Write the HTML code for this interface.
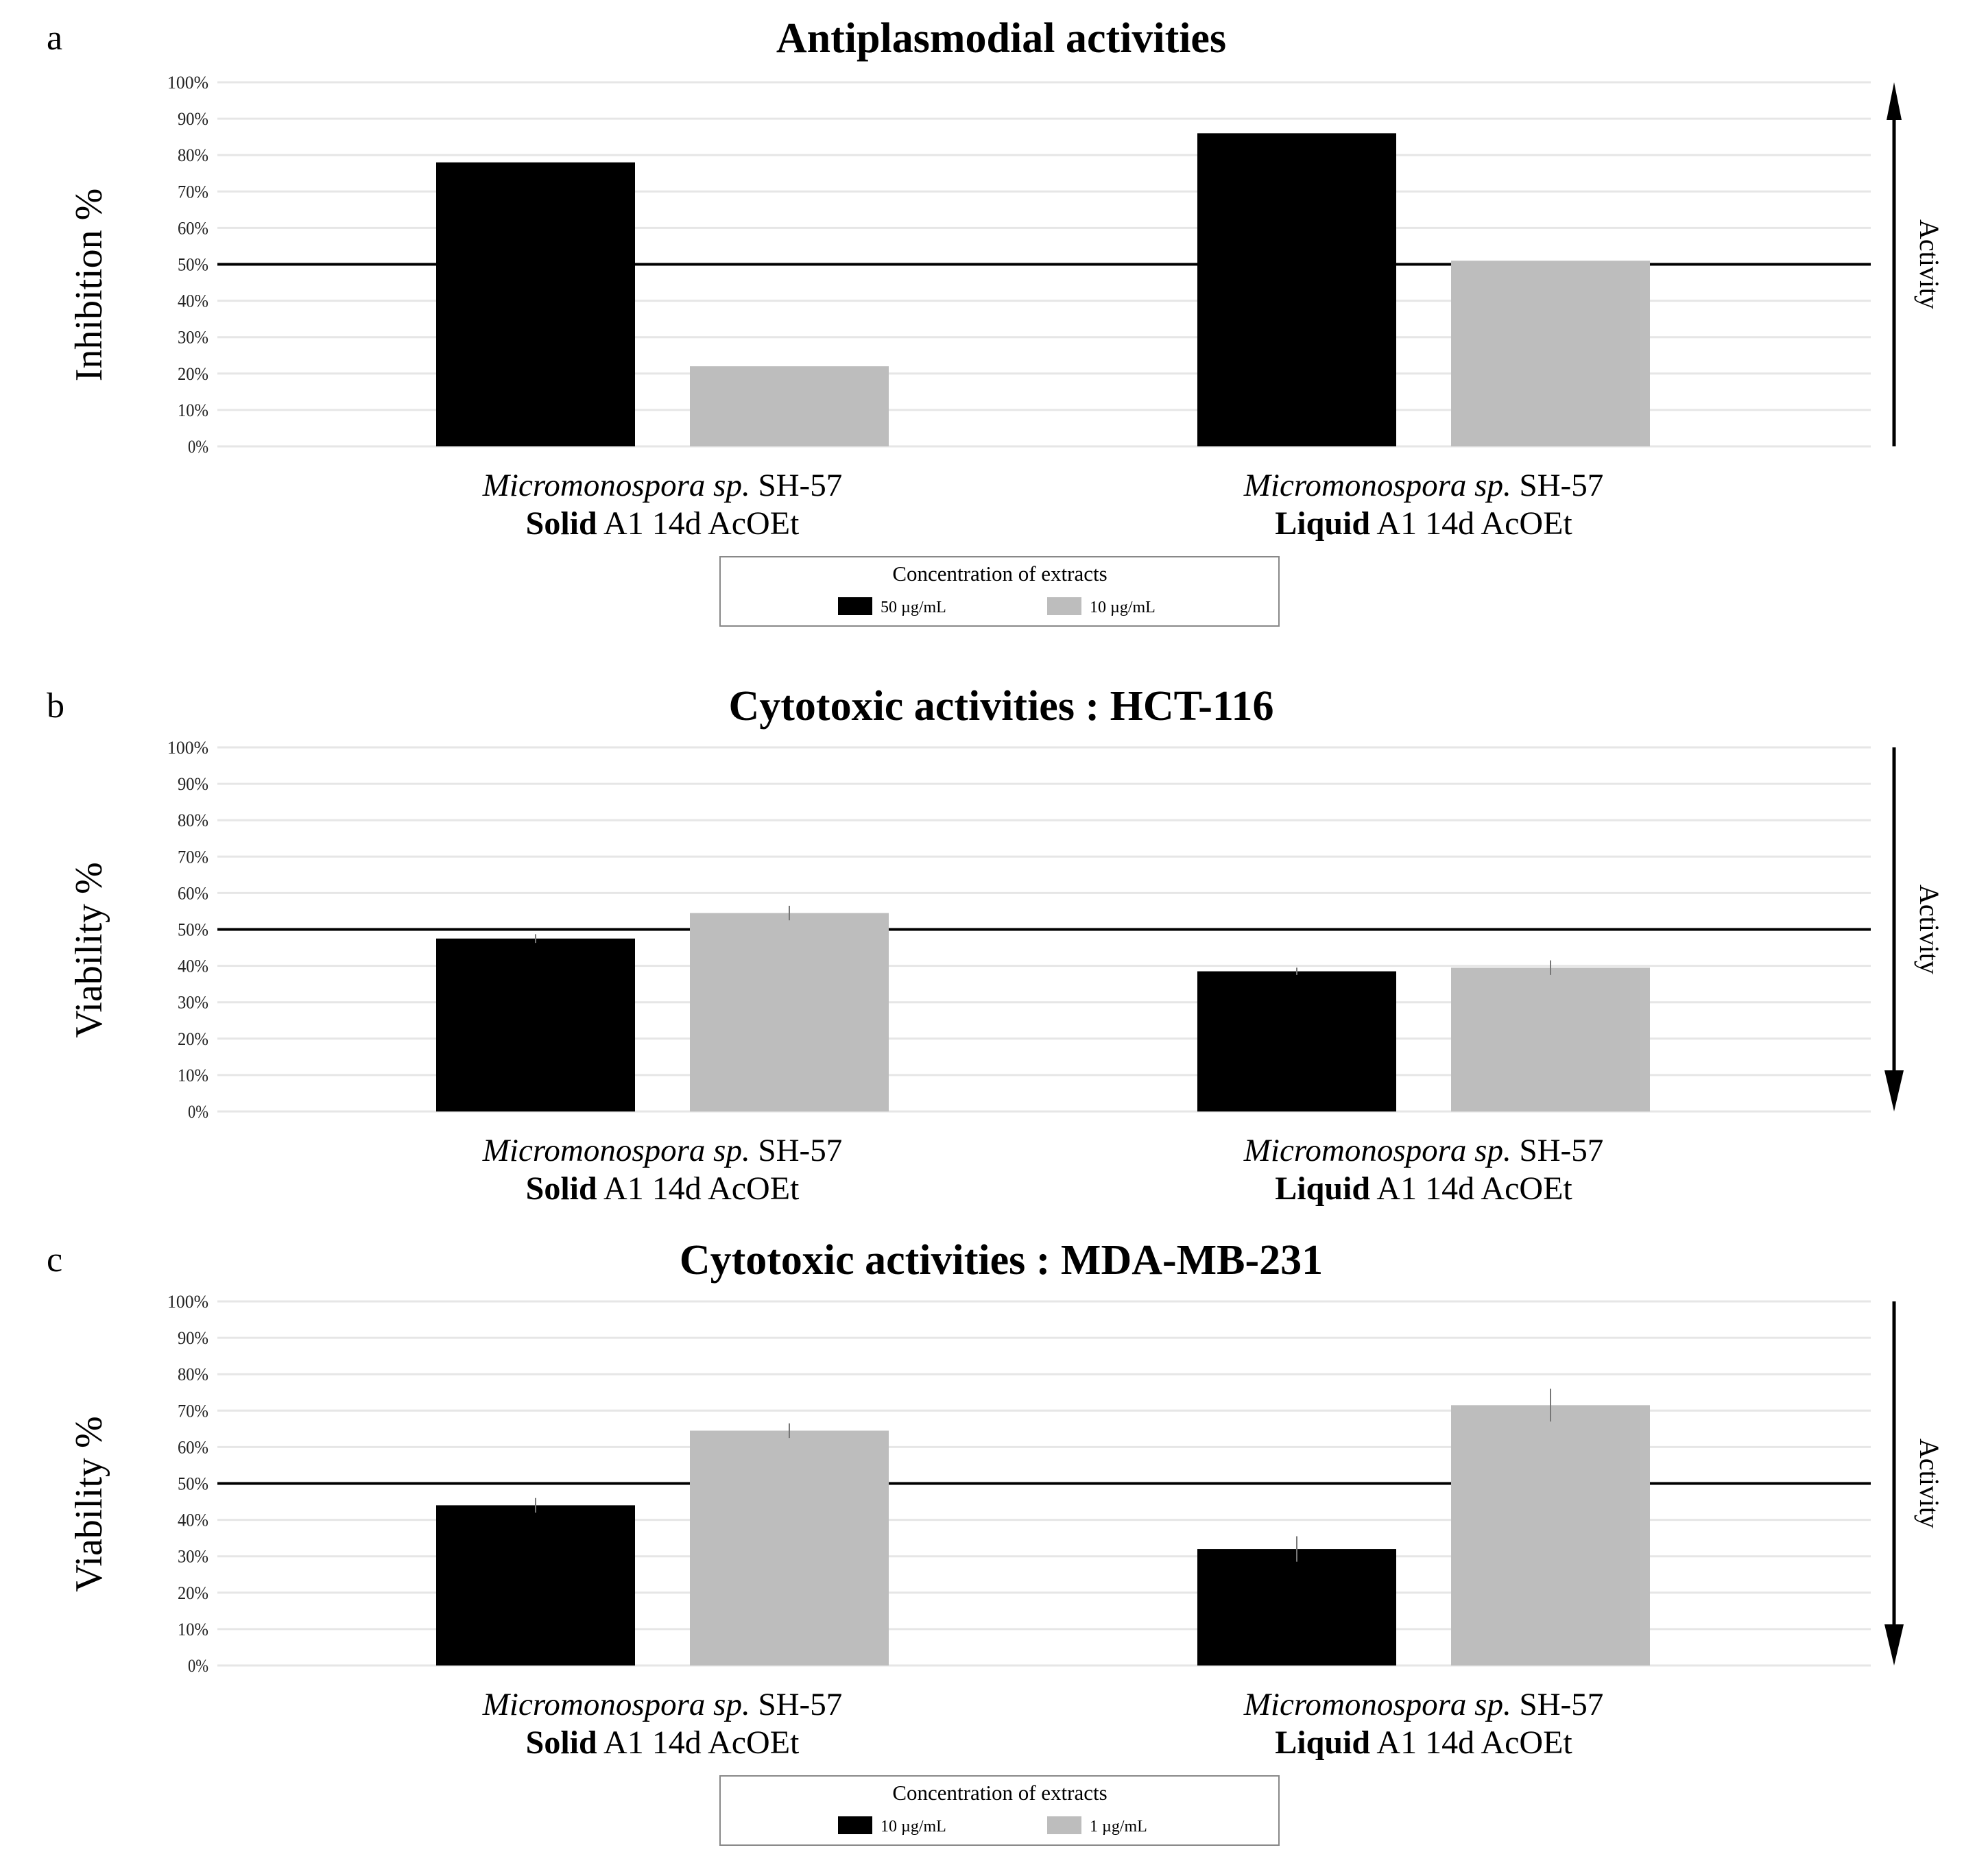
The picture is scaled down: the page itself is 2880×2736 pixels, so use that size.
<!DOCTYPE html>
<html><head><meta charset="utf-8">
<style>
html,body{margin:0;padding:0;background:#fff;}
svg{display:block;}
text{font-family:"Liberation Serif",serif;}
</style></head>
<body>
<svg id="fig" width="2880" height="2736" viewBox="0 0 2880 2736" xmlns="http://www.w3.org/2000/svg"></svg>
<script>
const categories = ["Solid", "Liquid"];
const ticks = [0,10,20,30,40,50,60,70,80,90,100];
const panelTitles = ["Antiplasmodial activities", "Cytotoxic activities : HCT-116", "Cytotoxic activities : MDA-MB-231"];
const panelLetters = ["a","b","c"];
const yTitles = ["Inhibition %", "Viability %", "Viability %"];
const seriesA1 = [78, 86];
const seriesA2 = [22, 51];
const seriesB1 = [47.5, 38.5];
const seriesB2 = [54.5, 39.5];
const errB1 = [1.2, 1.0];
const errB2 = [2.0, 2.0];
const seriesC1 = [44, 32];
const seriesC2 = [64.5, 71.5];
const errC1 = [2.0, 3.5];
const errC2 = [2.0, 4.5];
const legendA = ["50 µg/mL", "10 µg/mL"];
const legendC = ["10 µg/mL", "1 µg/mL"];

const NS = "http://www.w3.org/2000/svg";
const svg = document.getElementById("fig");
function mk(tag, attrs, parent, txt){
  const e = document.createElementNS(NS, tag);
  for (const k in attrs) e.setAttribute(k, attrs[k]);
  if (txt !== undefined) e.textContent = txt;
  (parent||svg).appendChild(e);
  return e;
}
const X0 = 317, X1 = 2728;
const groupStarts = [636, 1746];
const barW = 290, barGap = 80;

const panels = [
  {top:120, s1:seriesA1, s2:seriesA2, e1:null, e2:null, arrowUp:true, titleY:56, legend:legendA, legY:812},
  {top:1090, s1:seriesB1, s2:seriesB2, e1:errB1, e2:errB2, arrowUp:false, titleY:1030, legend:null},
  {top:1898, s1:seriesC1, s2:seriesC2, e1:errC1, e2:errC2, arrowUp:false, titleY:1838, legend:legendC, legY:2590}
];
const H = 531;
const arrowX = 2762;

panels.forEach((p, pi) => {
  const g = mk("g", {});
  
  
  const y = v => p.top + H - v / 100 * H;

  const letter = mk("text", {x:68, y:p.titleY+16, "font-size":52}, g, panelLetters[pi]);
  
  
  const t = mk("text", {x:1460, y:p.titleY+20, "font-size":62, "font-weight":"bold", "text-anchor":"middle"}, g, panelTitles[pi]);
  
  

  ticks.forEach(v => {
    const gl = mk("line", {x1:X0, x2:X1, y1:y(v), y2:y(v), stroke:"#e6e6e6", "stroke-width":3}, g);
    
    
    const tl = mk("text", {x:304, y:y(v)+9, "font-size":26, "text-anchor":"end", fill:"#222", textLength:(String(v).length+1)*15, lengthAdjust:"spacingAndGlyphs"}, g, v + "%");
    
    
  });

  const yt = mk("text", {x:0, y:0, "font-size":56, "text-anchor":"middle", transform:`translate(148,${p.top+H/2+30}) rotate(-90)`}, g, yTitles[pi]);
  
  

  const thr = mk("line", {x1:X0, x2:X1, y1:y(50), y2:y(50), stroke:"#000", "stroke-width":4}, g);
  
  

  categories.forEach((c, i) => {
    const x1 = groupStarts[i], x2 = x1 + barW + barGap;
    const b1 = mk("rect", {x:x1, y:y(p.s1[i]), width:barW, height:y(0)-y(p.s1[i]), fill:"#000"}, g);
    
    
    const b2 = mk("rect", {x:x2, y:y(p.s2[i]), width:barW, height:y(0)-y(p.s2[i]), fill:"#bdbdbd"}, g);
    
    
    if (p.e1) {
      const eb1 = mk("line", {x1:x1+barW/2, x2:x1+barW/2, y1:y(p.s1[i]+p.e1[i]), y2:y(p.s1[i]-p.e1[i]), stroke:"#777", "stroke-width":2}, g);
      
      
      const eb2 = mk("line", {x1:x2+barW/2, x2:x2+barW/2, y1:y(p.s2[i]+p.e2[i]), y2:y(p.s2[i]-p.e2[i]), stroke:"#777", "stroke-width":2}, g);
      
      
    }
    const cx = x1 + barW + barGap/2;
    const l1 = mk("text", {x:cx, y:p.top+H+72, "font-size":47, "text-anchor":"middle"}, g);
    
    
    mk("tspan", {"font-style":"italic"}, l1, "Micromonospora sp.");
    mk("tspan", {}, l1, " SH-57");
    const l2 = mk("text", {x:cx, y:p.top+H+128, "font-size":48, "text-anchor":"middle"}, g);
    
    
    mk("tspan", {"font-weight":"bold"}, l2, c);
    mk("tspan", {}, l2, " A1 14d AcOEt");
  });

  const ax = arrowX;
  const ar = mk("g", {}, g);
  
  
  if (p.arrowUp) {
    mk("line", {x1:ax, x2:ax, y1:p.top+40, y2:p.top+H, stroke:"#000", "stroke-width":5}, ar);
    mk("polygon", {points:`${ax-11},${p.top+55} ${ax+11},${p.top+55} ${ax},${p.top}`, fill:"#000"}, ar);
  } else {
    mk("line", {x1:ax, x2:ax, y1:p.top, y2:p.top+H-40, stroke:"#000", "stroke-width":5}, ar);
    mk("polygon", {points:`${ax-14},${p.top+H-60} ${ax+14},${p.top+H-60} ${ax},${p.top+H}`, fill:"#000"}, ar);
  }
  const act = mk("text", {x:0, y:0, "font-size":40, "text-anchor":"middle", transform:`translate(2800,${p.top+H/2}) rotate(90)`}, g, "Activity");
  
  

  if (p.legend) {
    const lg = mk("g", {}, g);
    
    
    const ly = p.legY;
    mk("rect", {x:1050, y:ly, width:815, height:101, fill:"#fff", stroke:"#888", "stroke-width":2}, lg);
    const lt = mk("text", {x:1458, y:ly+35, "font-size":31, "text-anchor":"middle"}, lg, "Concentration of extracts");
    
    
    const sw1 = mk("rect", {x:1222, y:ly+59, width:50, height:26, fill:"#000"}, lg);
    
    
    const le1 = mk("text", {x:1284, y:ly+81, "font-size":24}, lg, p.legend[0]);
    
    
    const sw2 = mk("rect", {x:1527, y:ly+59, width:50, height:26, fill:"#bdbdbd"}, lg);
    
    
    const le2 = mk("text", {x:1589, y:ly+81, "font-size":24}, lg, p.legend[1]);
    
    
  }
});
</script>
</body></html>
